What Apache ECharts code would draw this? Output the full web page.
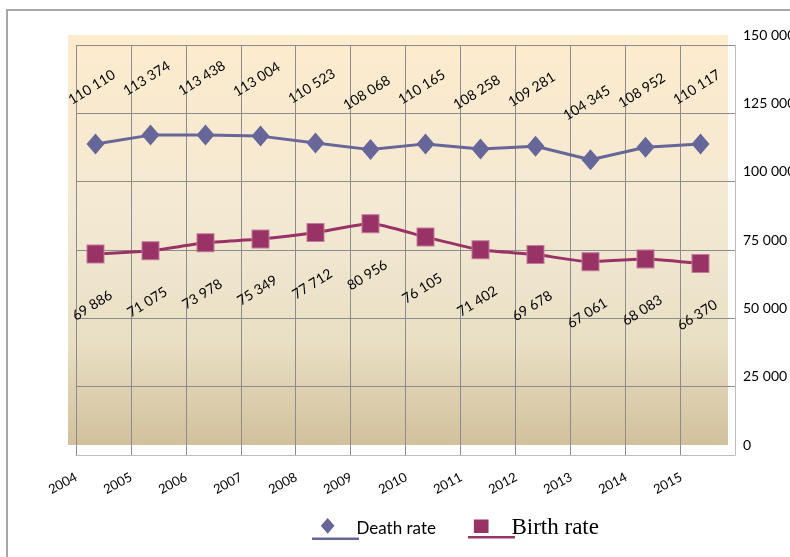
<!DOCTYPE html>
<html>
<head>
    <meta charset="utf-8" />
    <title>Death rate / Birth rate</title>
    <script src="https://cdn.jsdelivr.net/npm/echarts/dist/echarts.min.js"></script>
    <style>
        html, body { margin: 0; padding: 0; background: #fff; }
        #container { width: 790px; height: 557px; }
    </style>
</head>
<body>
    <div id="container"></div>
</body>
</html>
<script>
    // chart data
    var years = ['2004', '2005', '2006', '2007', '2008', '2009', '2010', '2011', '2012', '2013', '2014', '2015'];
    var deathRate = [110110, 113374, 113438, 113004, 110523, 108068, 110165, 108258, 109281, 104345, 108952, 110117];
    var birthRate = [69886, 71075, 73978, 75349, 77712, 80956, 76105, 71402, 69678, 67061, 68083, 66370];
    var yMin = 0, yMax = 150000, yStep = 25000;

    // 150000 -> "150 000"
    function fmt(v) {
        return String(v).replace(/\B(?=(\d{3})+(?!\d))/g, ' ');
    }

    var dom = document.getElementById('container');
    var myChart = echarts.init(dom);

    var option = {
        animation: false,
        backgroundColor: '#fff',
        graphic: [{
            type: 'rect',
            z: -10,
            shape: { x: 7, y: 10, width: 820, height: 600 },
            style: { fill: 'none', stroke: '#a6a6a6', lineWidth: 2 }
        }],
        grid: [
            {   // the grid lines box
                left: 76, top: 45, width: 659, height: 410,
                outerBoundsMode: 'none',
                show: false
            },
            {   // the plot area (shifted, with the gradient)
                left: 68, top: 35, width: 660, height: 410,
                outerBoundsMode: 'none',
                show: true,
                borderWidth: 0,
                z: -1,
                backgroundColor: {
                    type: 'linear', x: 0, y: 0, x2: 0, y2: 1,
                    colorStops: [
                        { offset: 0, color: '#fdebcd' },
                        { offset: 0.45, color: '#f3e9d3' },
                        { offset: 0.75, color: '#e9dfc4' },
                        { offset: 1, color: '#d1c09c' }
                    ]
                }
            }
        ],
        xAxis: [
            {
                type: 'category', gridIndex: 0, data: years,
                boundaryGap: true,
                axisLine: { show: true, lineStyle: { color: '#bdbdbd', width: 1 } },
                axisTick: { show: false },
                axisLabel: { show: false },
                splitLine: { show: true, lineStyle: { color: '#8c8c8c', width: 1 } }
            },
            {
                type: 'category', gridIndex: 1, data: years,
                boundaryGap: true,
                axisLine: { show: false },
                axisTick: { show: false },
                splitLine: { show: false },
                axisLabel: {
                    rotate: 28,
                    margin: 21,
                    padding: [0, 22, 0, 0],
                    color: '#000',
                    fontFamily: 'Lato',
                    fontSize: 13
                }
            }
        ],
        yAxis: [
            {
                type: 'value', gridIndex: 0, position: 'right',
                min: yMin, max: yMax, interval: yStep,
                axisLine: { show: true, lineStyle: { color: '#bdbdbd', width: 1 } },
                axisTick: { show: false },
                axisLabel: { show: false },
                splitLine: { show: true, lineStyle: { color: '#8c8c8c', width: 1 } }
            },
            {
                type: 'value', gridIndex: 1, position: 'right',
                min: yMin, max: yMax, interval: yStep,
                axisLine: { show: false },
                axisTick: { show: false },
                splitLine: { show: false },
                axisLabel: {
                    margin: 15,
                    color: '#000',
                    fontFamily: 'Lato',
                    fontSize: 14,
                    formatter: function (v) { return fmt(v); }
                }
            }
        ],
        legend: [
            {
                left: 312, top: 518, padding: 0,
                itemWidth: 48, itemHeight: 22,
                data: [{
                    name: 'Death rate',
                    icon: 'path://M16 0L23 8L16 16L9 8Z M0 20H48V22.5H0Z',
                    textStyle: { fontFamily: 'Lato', fontSize: 17, color: '#000', padding: [0, 0, 0, -8] }
                }]
            },
            {
                left: 468, top: 516, padding: 0,
                itemWidth: 48, itemHeight: 22,
                data: [{
                    name: 'Birth rate',
                    icon: 'path://M0 0L0 0Z M6 3H21V17H6Z M0 20H48V22.5H0Z',
                    itemStyle: { borderWidth: 0 },
                    textStyle: { fontFamily: 'Liberation Serif', fontSize: 23, color: '#000', padding: [0, 0, 0, -9] }
                }]
            }
        ],
        series: [
            {
                name: 'Death rate',
                type: 'line',
                xAxisIndex: 1, yAxisIndex: 1,
                data: deathRate,
                symbol: 'diamond',
                symbolSize: [18, 21],
                lineStyle: { color: '#666699', width: 3 },
                itemStyle: { color: '#666699' },
                label: {
                    show: true,
                    position: 'inside',
                    // offset is turned with the label, so this lands up and a bit left
                    offset: [27, -50],
                    rotate: 32,
                    align: 'center',
                    verticalAlign: 'middle',
                    color: '#000',
                    fontFamily: 'Lato',
                    fontSize: 14,
                    formatter: function (p) { return fmt(p.value); }
                }
            },
            {
                name: 'Birth rate',
                type: 'line',
                xAxisIndex: 1, yAxisIndex: 1,
                data: birthRate,
                smooth: 0.2,
                symbol: 'rect',
                symbolSize: [17, 18],
                lineStyle: { color: '#993366', width: 3 },
                itemStyle: { color: '#993366', borderColor: '#c07a9c', borderWidth: 1 },
                label: {
                    show: true,
                    position: 'inside',
                    offset: [-30, 42],
                    rotate: 32,
                    align: 'center',
                    verticalAlign: 'middle',
                    color: '#000',
                    fontFamily: 'Lato',
                    fontSize: 14,
                    formatter: function (p) { return fmt(p.value); }
                }
            }
        ]
    };

    myChart.setOption(option);
</script>
